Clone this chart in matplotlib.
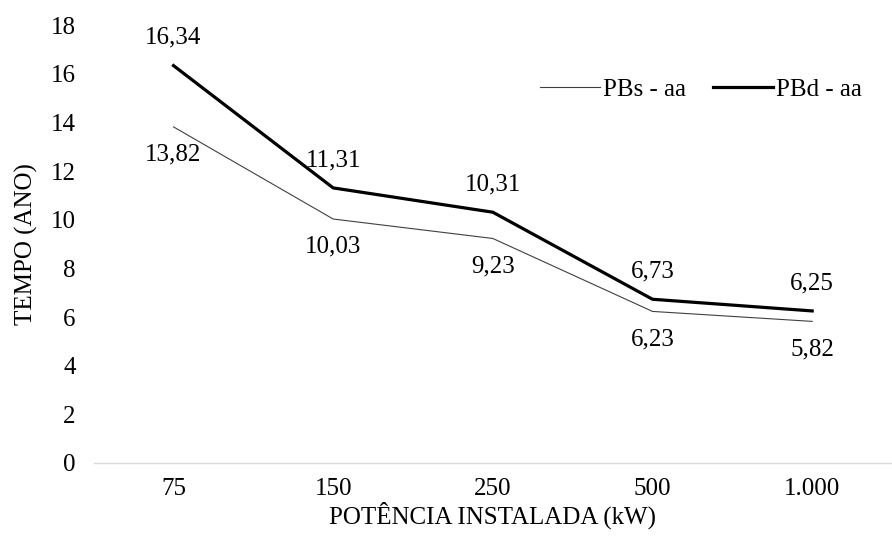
import matplotlib.pyplot as plt
import numpy as np

categorias = ['75', '150', '250', '500', '1.000']
pbs_aa = [13.82, 10.03, 9.23, 6.23, 5.82]
pbd_aa = [16.34, 11.31, 10.31, 6.73, 6.25]


def fmt(v):
    return f"{v:.2f}".replace('.', ',')


def main():
    plt.rcParams['font.family'] = ['Liberation Serif', 'DejaVu Serif']
    fs = 18
    fig = plt.figure(figsize=(8.92, 5.37), dpi=100)
    ax = fig.add_axes([0.105, 0.138, 0.895, 0.815])

    x = np.arange(len(categorias))
    ax.plot(x, pbs_aa, color='#404040', lw=0.8, label='PBs - aa')
    ax.plot(x, pbd_aa, color='black', lw=2.3, label='PBd - aa')

    # rotulos de dados: PBd acima, PBs abaixo
    for xi, v in zip(x, pbd_aa):
        ax.annotate(fmt(v), (xi, v), xytext=(0, 20), textcoords='offset points',
                    ha='center', va='center', fontsize=fs)
    for xi, v in zip(x, pbs_aa):
        ax.annotate(fmt(v), (xi, v), xytext=(0, -20), textcoords='offset points',
                    ha='center', va='center', fontsize=fs)

    ax.set_xlim(-0.5, len(categorias) - 0.5)
    ax.set_ylim(0, 18)
    ax.set_yticks(np.arange(0, 19, 2))
    ax.set_xticks(x)
    ax.set_xticklabels(categorias)
    ax.tick_params(axis='both', length=0, labelsize=fs, colors='black')
    ax.tick_params(axis='x', pad=11)
    ax.tick_params(axis='y', pad=13)

    for s in ['top', 'right', 'left']:
        ax.spines[s].set_visible(False)
    ax.spines['bottom'].set_color('#d9d9d9')
    ax.spines['bottom'].set_linewidth(1)

    ax.set_xlabel('POTÊNCIA INSTALADA (kW)', fontsize=fs, labelpad=1)
    ax.set_ylabel('TEMPO (ANO)', fontsize=fs, labelpad=9)

    ax.legend(loc='upper right', bbox_to_anchor=(0.99, 0.93), ncol=2, frameon=False,
              fontsize=fs, handlelength=2.4, handletextpad=0.1, columnspacing=1.1)

    plt.savefig('out.png', dpi=100)


if __name__ == "__main__":
    main()
